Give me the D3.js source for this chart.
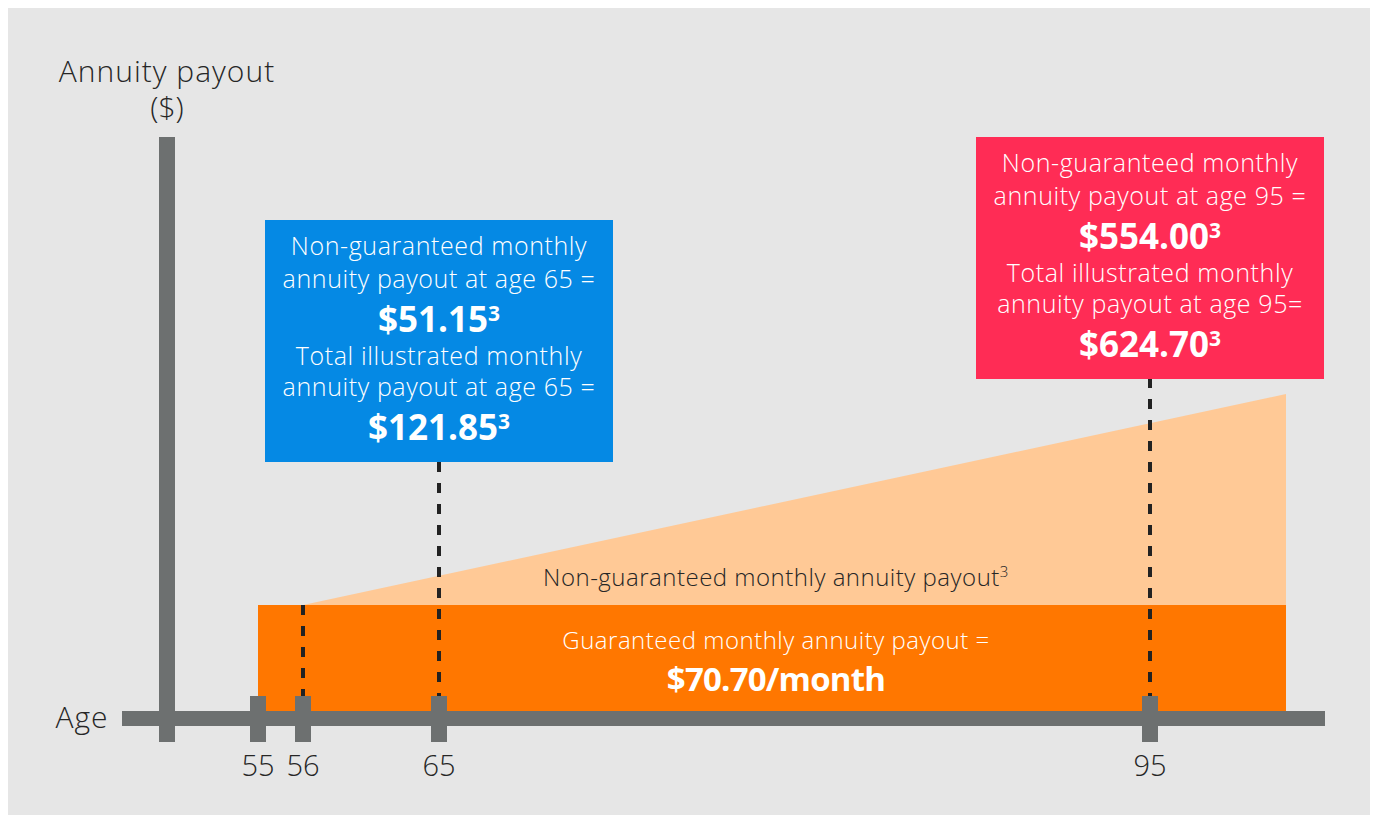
<!DOCTYPE html>
<html>
<meta charset="utf-8">
<style>
    body { margin: 0; background: #fff; }
    text { font-family: 'Open Sans', 'Noto Sans', sans-serif; }
</style>

<body>
    <svg id="chart" width="1375" height="819"></svg>
    <script src="https://d3js.org/d3.v7.min.js"></script>
    <script>
        // ages used on the axis (scale is schematic, not linear)
        const ageTicks = [55, 56, 65, 95];
        const startAge = 55;
        const payoutStartAge = 56;
        const endAge = 100;

        // payouts ($/month)
        const guaranteed = 70.70;
        const totalAtEnd = 700;      // top of the illustrated area at the right edge (estimated)
        const markerAges = [65, 95];
        const nonGuaranteedValues = ["$51.15", "$554.00"];
        const totalValues = ["$121.85", "$624.70"];
        const markerEq = ["=", "="];
        const totalEq = [" =", "="];
        const boxColors = ["#0589e4", "#ff2c55"];

        const chart = d3.select("#chart");

        const x = d3.scaleLinear()
            .domain([55, 56, 65, 95, 100])
            .range([258, 303, 439, 1150, 1286]);

        const y = d3.scaleLinear()
            .domain([0, guaranteed, totalAtEnd])
            .range([711, 605, 394]);

        const axisGrey = "#6d7070";
        const dark = "#262626";

        // adds a small raised "3" footnote mark
        function addNote(t, size, shift) {
            t.append("tspan")
                .attr("font-size", size)
                .attr("dy", -shift)
                .text("3");
        }

        chart.append("rect")
            .attr("x", 8).attr("y", 8)
            .attr("width", 1362).attr("height", 807)
            .attr("fill", "#e6e6e6");

        // non-guaranteed area (light orange)
        const areaPts = [
            [payoutStartAge, guaranteed],
            [endAge, totalAtEnd],
            [endAge, guaranteed]
        ];
        chart.append("path")
            .attr("d", d3.line().x(d => x(d[0])).y(d => y(d[1]))(areaPts) + "Z")
            .attr("fill", "#ffc996");

        // guaranteed band
        chart.append("rect")
            .attr("x", x(startAge))
            .attr("y", y(guaranteed))
            .attr("width", x(endAge) - x(startAge))
            .attr("height", y(0) - y(guaranteed))
            .attr("fill", "#ff7700");

        // boxes
        const boxW = 348;
        const boxTops = [220, 137];
        const boxH = 242;

        const dashBottom = 696;
        const dashData = [
            { age: 56, top: y(guaranteed) },
            { age: 65, top: boxTops[0] + boxH },
            { age: 95, top: boxTops[1] + boxH - 1 }
        ];
        chart.append("g").selectAll("line")
            .data(dashData)
            .enter()
            .append("line")
            .attr("x1", d => x(d.age)).attr("x2", d => x(d.age))
            .attr("y1", d => d.top).attr("y2", dashBottom)
            .attr("stroke", "#222")
            .attr("stroke-width", 4)
            .attr("stroke-dasharray", "10,11");

        // axes
        chart.append("rect")
            .attr("x", 159).attr("y", 137)
            .attr("width", 16).attr("height", 742 - 137)
            .attr("fill", axisGrey);
        chart.append("rect")
            .attr("x", 122).attr("y", 711)
            .attr("width", 1325 - 122).attr("height", 15)
            .attr("fill", axisGrey);

        chart.append("g").selectAll("rect")
            .data(ageTicks)
            .enter()
            .append("rect")
            .attr("x", d => x(d) - 8)
            .attr("y", 696)
            .attr("width", 16)
            .attr("height", 46)
            .attr("fill", axisGrey);

        chart.append("g").selectAll("text")
            .data(ageTicks)
            .enter()
            .append("text")
            .attr("x", d => x(d))
            .attr("y", 776)
            .attr("text-anchor", "middle")
            .attr("font-size", 29)
            .attr("font-weight", 300)
            .attr("fill", dark)
            .text(d => d);

        chart.append("text")
            .attr("x", 82).attr("y", 728)
            .attr("text-anchor", "middle")
            .attr("font-size", 30).attr("font-weight", 300)
            .attr("letter-spacing", 1)
            .attr("fill", dark)
            .text("Age");

        chart.append("text")
            .attr("x", 167).attr("y", 82)
            .attr("text-anchor", "middle")
            .attr("font-size", 30).attr("font-weight", 300)
            .attr("letter-spacing", 1)
            .attr("fill", dark)
            .text("Annuity payout");
        chart.append("text")
            .attr("x", 167).attr("y", 118)
            .attr("text-anchor", "middle")
            .attr("font-size", 30).attr("font-weight", 300)
            .attr("fill", dark)
            .text("($)");

        // area labels
        const midX = (x(startAge) + x(endAge)) / 2 + 4;
        const lbl = chart.append("text")
            .attr("x", midX).attr("y", 586)
            .attr("text-anchor", "middle")
            .attr("font-size", 24).attr("font-weight", 300)
            .attr("letter-spacing", 0.5)
            .attr("fill", dark);
        lbl.append("tspan").text("Non-guaranteed monthly annuity payout");
        addNote(lbl, 15, 9);

        chart.append("text")
            .attr("x", midX).attr("y", 649)
            .attr("text-anchor", "middle")
            .attr("font-size", 24).attr("font-weight", 300)
            .attr("letter-spacing", 0.5)
            .attr("fill", "#fff")
            .text("Guaranteed monthly annuity payout =");
        chart.append("text")
            .attr("x", midX).attr("y", 691)
            .attr("text-anchor", "middle")
            .attr("font-size", 33).attr("font-weight", 700)
            .attr("letter-spacing", -0.8)
            .attr("fill", "#fff")
            .text("$" + guaranteed.toFixed(2) + "/month");

        // callout boxes
        markerAges.forEach((age, i) => {
            const cx = x(age);
            const top = boxTops[i];
            const g = chart.append("g");
            g.append("rect")
                .attr("x", cx - boxW / 2).attr("y", top)
                .attr("width", boxW).attr("height", boxH)
                .attr("fill", boxColors[i]);

            const lines = [
                { t: "Non-guaranteed monthly", dy: 35, bold: false },
                { t: "annuity payout at age " + age + " " + markerEq[i], dy: 68, bold: false },
                { t: nonGuaranteedValues[i], dy: 112, bold: true },
                { t: "Total illustrated monthly", dy: 145, bold: false },
                { t: "annuity payout at age " + age + totalEq[i], dy: 176, bold: false },
                { t: totalValues[i], dy: 220, bold: true }
            ];
            lines.forEach(l => {
                const t = g.append("text")
                    .attr("x", cx).attr("y", top + l.dy)
                    .attr("text-anchor", "middle")
                    .attr("fill", "#fff")
                    .attr("font-size", l.bold ? 35 : 25)
                    .attr("font-weight", l.bold ? 700 : 300)
                    .attr("letter-spacing", l.bold ? 0 : 0.6);
                t.append("tspan").text(l.t);
                if (l.bold) addNote(t, 21, 11);
            });
        });
    </script>
</body>

</html>
